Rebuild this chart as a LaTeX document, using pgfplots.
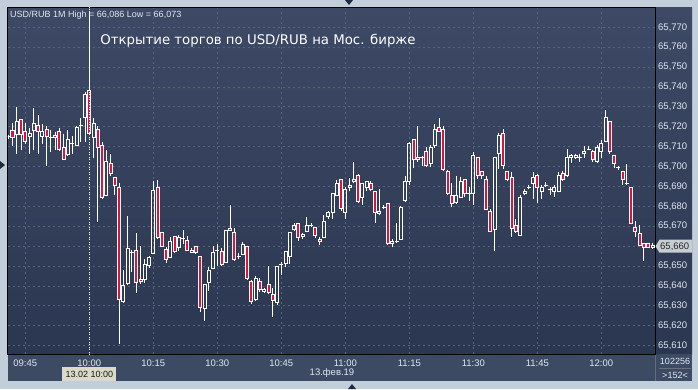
\documentclass[border=0pt]{standalone}
\usepackage{pgfplots}
\pgfplotsset{compat=1.18}
\usepackage{pgfplotstable}
\usepackage{fontspec}
\setmainfont{Liberation Sans}
\newfontfamily\titlefont{DejaVu Sans}
\definecolor{outer}{HTML}{C3CEDB}
\definecolor{bgtop}{HTML}{3E4A65}
\definecolor{bgbot}{HTML}{2B3651}
\definecolor{gridc}{HTML}{55637E}
\definecolor{lbl}{HTML}{E1E7F0}
\definecolor{candred}{HTML}{DC143C}
\definecolor{botpanel}{HTML}{3D4A64}
\definecolor{tagc}{HTML}{C8CDD4}
\definecolor{navc}{HTML}{1E2A40}

\pgfplotstableread{
k o h l c
0 65.7150 65.7160 65.7140 65.7150
1 65.7183 65.7217 65.7103 65.7145
2 65.7163 65.7300 65.7063 65.7227
3 65.7237 65.7240 65.7083 65.7163
4 65.7175 65.7217 65.7115 65.7125
5 65.7153 65.7195 65.7063 65.7165
6 65.7183 65.7292 65.7083 65.7215
7 65.7205 65.7258 65.7063 65.7175
8 65.7153 65.7215 65.7115 65.7175
9 65.7185 65.7205 65.7003 65.7153
10 65.7145 65.7185 65.7075 65.7145
11 65.7157 65.7175 65.7083 65.7145
12 65.7175 65.7195 65.7083 65.7085
13 65.7095 65.7165 65.7035 65.7035
14 65.7063 65.7185 65.7053 65.7135
15 65.7115 65.7155 65.7063 65.7115
16 65.7105 65.7205 65.7105 65.7195
17 65.7205 65.7245 65.7125 65.7205
18 65.7245 65.7375 65.7125 65.7362
19 65.7382 65.7780 65.7160 65.7165
20 65.7145 65.7245 65.7045 65.7215
21 65.7185 65.7205 65.6723 65.7095
22 65.7105 65.7125 65.6835 65.6845
23 65.6855 65.7085 65.6850 65.7025
24 65.7015 65.7065 65.6955 65.6965
25 65.6945 65.6947 65.6855 65.6905
26 65.6895 65.6915 65.6108 65.6330
27 65.6320 65.6480 65.6315 65.6400
28 65.6410 65.6750 65.6405 65.6590
29 65.6567 65.6580 65.6470 65.6567
30 65.6580 65.6665 65.6365 65.6415
31 65.6433 65.6600 65.6410 65.6423
32 65.6433 65.6533 65.6413 65.6510
33 65.6502 65.6550 65.6490 65.6542
34 65.6565 65.6930 65.6560 65.6880
35 65.6895 65.6935 65.6635 65.6645
36 65.6670 65.6670 65.6598 65.6600
37 65.6585 65.6595 65.6515 65.6535
38 65.6545 65.6645 65.6540 65.6625
39 65.6650 65.6650 65.6565 65.6575
40 65.6595 65.6655 65.6575 65.6645
41 65.6640 65.6680 65.6610 65.6640
42 65.6630 65.6650 65.6578 65.6580
43 65.6570 65.6590 65.6565 65.6580
44 65.6600 65.6600 65.6560 65.6570
45 65.6550 65.6550 65.6270 65.6293
46 65.6285 65.6405 65.6225 65.6405
47 65.6415 65.6495 65.6375 65.6480
48 65.6490 65.6600 65.6485 65.6570
49 65.6580 65.6610 65.6500 65.6580
50 65.6575 65.6590 65.6500 65.6510
51 65.6520 65.6680 65.6520 65.6680
52 65.6690 65.6805 65.6678 65.6680
53 65.6670 65.6690 65.6525 65.6535
54 65.6550 65.6565 65.6535 65.6550
55 65.6560 65.6620 65.6560 65.6610
56 65.6600 65.6600 65.6430 65.6440
57 65.6420 65.6430 65.6310 65.6320
58 65.6330 65.6450 65.6328 65.6440
59 65.6420 65.6440 65.6370 65.6380
60 65.6370 65.6390 65.6368 65.6380
61 65.6405 65.6500 65.6360 65.6365
62 65.6358 65.6390 65.6245 65.6325
63 65.6315 65.6500 65.6305 65.6500
64 65.6510 65.6520 65.6455 65.6510
65 65.6512 65.6572 65.6495 65.6572
66 65.6550 65.6670 65.6510 65.6670
67 65.6685 65.6715 65.6675 65.6705
68 65.6715 65.6715 65.6625 65.6645
69 65.6648 65.6667 65.6637 65.6658
70 65.6675 65.6745 65.6675 65.6705
71 65.6705 65.6715 65.6695 65.6705
72 65.6693 65.6693 65.6643 65.6653
73 65.6635 65.6645 65.6605 65.6625
74 65.6645 65.6755 65.6645 65.6725
75 65.6747 65.6777 65.6737 65.6767
76 65.6767 65.6867 65.6737 65.6867
77 65.6855 65.6935 65.6855 65.6915
78 65.6937 65.6937 65.6777 65.6787
79 65.6767 65.6895 65.6735 65.6885
80 65.6895 65.6945 65.6875 65.6905
81 65.6925 65.7025 65.6915 65.6935
82 65.6955 65.6965 65.6820 65.6823
83 65.6847 65.6917 65.6807 65.6917
84 65.6895 65.6925 65.6875 65.6925
85 65.6915 65.6925 65.6875 65.6885
86 65.6875 65.6875 65.6717 65.6767
87 65.6765 65.6885 65.6755 65.6775
88 65.6795 65.6805 65.6785 65.6795
89 65.6815 65.6815 65.6605 65.6615
90 65.6615 65.6635 65.6595 65.6625
91 65.6625 65.6715 65.6615 65.6625
92 65.6635 65.6800 65.6630 65.6795
93 65.6827 65.6955 65.6825 65.6927
94 65.6925 65.7125 65.6905 65.7115
95 65.7135 65.7135 65.6995 65.7035
96 65.7045 65.7205 65.7025 65.7035
97 65.7045 65.7055 65.7005 65.7045
98 65.7077 65.7097 65.6997 65.7007
99 65.7017 65.7107 65.6997 65.7097
100 65.7105 65.7215 65.7095 65.7185
101 65.7195 65.7245 65.7175 65.7175
102 65.7185 65.7205 65.6980 65.6985
103 65.6975 65.6985 65.6855 65.6865
104 65.6855 65.6915 65.6795 65.6815
105 65.6817 65.6955 65.6810 65.6857
106 65.6847 65.6947 65.6845 65.6927
107 65.6935 65.6935 65.6845 65.6865
108 65.6865 65.6895 65.6825 65.6865
109 65.6867 65.7075 65.6807 65.7055
110 65.7047 65.7047 65.6937 65.6957
111 65.6977 65.6977 65.6937 65.6957
112 65.6935 65.6955 65.6780 65.6785
113 65.6775 65.6785 65.6670 65.6675
114 65.6683 65.7045 65.6575 65.7045
115 65.7067 65.7167 65.6987 65.7157
116 65.7167 65.7187 65.6987 65.7007
117 65.6975 65.6975 65.6925 65.6935
118 65.6945 65.6975 65.6647 65.6687
119 65.6705 65.6735 65.6665 65.6675
120 65.6655 65.6855 65.6650 65.6845
121 65.6865 65.6885 65.6855 65.6875
122 65.6895 65.6905 65.6885 65.6895
123 65.6915 65.6975 65.6837 65.6945
124 65.6955 65.6965 65.6817 65.6897
125 65.6877 65.6907 65.6837 65.6897
126 65.6905 65.6925 65.6895 65.6905
127 65.6885 65.6895 65.6855 65.6885
128 65.6875 65.6905 65.6847 65.6895
129 65.6875 65.6975 65.6870 65.6955
130 65.6967 65.6977 65.6927 65.6937
131 65.6957 65.7087 65.6947 65.7047
132 65.7045 65.7065 65.7017 65.7055
133 65.7045 65.7065 65.7043 65.7055
134 65.7045 65.7065 65.7025 65.7045
135 65.7065 65.7105 65.7045 65.7075
136 65.7085 65.7105 65.7085 65.7085
137 65.7075 65.7085 65.7025 65.7035
138 65.7027 65.7107 65.7017 65.7097
139 65.7075 65.7135 65.7045 65.7115
140 65.7125 65.7285 65.7125 65.7245
141 65.7225 65.7225 65.7065 65.7075
142 65.7055 65.7055 65.6995 65.7015
143 65.6995 65.7005 65.6985 65.6995
144 65.6975 65.6975 65.6907 65.6935
145 65.6915 65.7015 65.6905 65.6915
146 65.6895 65.6895 65.6710 65.6715
147 65.6695 65.6725 65.6645 65.6675
148 65.6665 65.6705 65.6600 65.6605
149 65.6615 65.6615 65.6525 65.6595
150 65.6615 65.6615 65.6595 65.6595
151 65.6595 65.6615 65.6587 65.6605
}\candles

\pgfplotsset{
  cbar/.style={draw=none, mark=none, forget plot,
    error bars/error mark=none,
    error bars/error bar style={draw=white, solid, line width=1pt, line cap=butt}},
}

\begin{document}
\begin{tikzpicture}
\path[use as bounding box] (0pt,-389pt) rectangle (698pt,0pt);
\fill[outer] (0pt,-389pt) rectangle (698pt,0pt);
\shade[top color=bgtop, bottom color=bgbot] (655pt,-354pt) rectangle (692pt,-7pt);
\fill[botpanel] (8pt,-381pt) rectangle (692pt,-354pt);
\draw[color=gray!60!bgtop, line width=1pt] (655pt,-355pt) -- (655pt,-381pt);
\draw[color=gray!70!bgtop, line width=0.8pt] (659pt,-368pt) -- (691pt,-368pt);

\begin{axis}[
  at={(8pt,-354pt)}, anchor=south west,
  scale only axis, width=647pt, height=347pt,
  xmin=-0.0547, xmax=151.586, ymin=65.6058, ymax=65.7802,
  axis background/.style={top color=bgtop, bottom color=bgbot},
  axis line style={draw=black, line width=1pt},
  xtick={4,19,34,49,64,79,94,109,124,139},
  xticklabels={09:45,10:00,10:15,10:30,10:45,11:00,11:15,11:30,11:45,12:00},
  ytick={65.61,65.62,65.63,65.64,65.65,65.66,65.67,65.68,65.69,65.70,65.71,65.72,65.73,65.74,65.75,65.76,65.77},
  yticklabels={{65,610},{65,620},{65,630},{65,640},{65,650},{},{65,670},{65,680},{65,690},{65,700},{65,710},{65,720},{65,730},{65,740},{65,750},{65,760},{65,770}},
  yticklabel pos=right,
  major tick length=0pt,
  grid=major,
  major grid style={draw=gridc, line width=0.9pt, dash pattern=on 2pt off 3pt},
  ticklabel style={font=\fontsize{9.5}{11}\selectfont, text=lbl, inner sep=0pt},
  xticklabel style={anchor=base, yshift=-12pt},
  yticklabel style={anchor=west, xshift=3pt},
]
% upper wicks
\addplot[cbar, error bars/y dir=plus, error bars/y explicit]
  table[x=k, y expr={max(\thisrow{o},\thisrow{c})},
        y error expr={\thisrow{h}-max(\thisrow{o},\thisrow{c})}] {\candles};
% lower wicks
\addplot[cbar, error bars/y dir=plus, error bars/y explicit]
  table[x=k, y=l, y error expr={min(\thisrow{o},\thisrow{c})-\thisrow{l}}] {\candles};
% red fill for falling candles
\addplot[cbar, error bars/y dir=plus, error bars/y explicit,
  error bars/error bar style={draw=candred, line width=2.2pt}]
  table[x=k, y=c, y error expr={max(\thisrow{o}-\thisrow{c},0)}] {\candles};
% body sides
\addplot[cbar, error bars/y dir=plus, error bars/y explicit]
  table[x expr={\thisrow{k}-0.3516}, y expr={min(\thisrow{o},\thisrow{c})},
        y error expr={abs(\thisrow{o}-\thisrow{c})}] {\candles};
\addplot[cbar, error bars/y dir=plus, error bars/y explicit]
  table[x expr={\thisrow{k}+0.3516}, y expr={min(\thisrow{o},\thisrow{c})},
        y error expr={abs(\thisrow{o}-\thisrow{c})}] {\candles};
% body top and bottom
\addplot[cbar, error bars/x dir=both, error bars/x fixed=0.46875]
  table[x=k, y expr={max(\thisrow{o},\thisrow{c})}] {\candles};
\addplot[cbar, error bars/x dir=both, error bars/x fixed=0.46875]
  table[x=k, y expr={min(\thisrow{o},\thisrow{c})}] {\candles};
% cursor
\draw[white, line width=1pt, dash pattern=on 1pt off 1.5pt] (axis cs:19,65.59) -- (axis cs:19,65.79);
\end{axis}

% texts
\node[anchor=west, inner sep=0pt, text=lbl, font=\fontsize{9}{11}\selectfont] at (10pt,-15pt) {USD/RUB 1M High = 66,086 Low = 66,073};
\node[inner sep=0pt, text=white, font=\titlefont\fontsize{13.3}{15}\selectfont] at (258pt,-41pt) {Открытие торгов по USD/RUB на Мос. бирже};
% price tag
\fill[tagc] (655.5pt,-246.2pt) -- (659.5pt,-239.7pt) -- (692pt,-239.7pt) -- (692pt,-252.7pt) -- (659.5pt,-252.7pt) -- cycle;
\node[anchor=west, inner sep=0pt, text=black!85, font=\fontsize{9.5}{11}\selectfont] at (660pt,-246.4pt) {65,660};
% bottom panel texts
\node[inner sep=0pt, text=lbl, font=\fontsize{9.5}{11}\selectfont] at (332pt,-373pt) {13.фев.19};
\node[fill={rgb,255:red,218;green,218;blue,200}, minimum width=54pt, minimum height=14pt, inner sep=0pt, text=black!90, font=\fontsize{9}{11}\selectfont] at (89.3pt,-374pt) {13.02 10:00};
\node[inner sep=0pt, text=lbl, font=\fontsize{9}{11}\selectfont] at (675pt,-361pt) {102256};
\node[inner sep=0pt, text=lbl, font=\fontsize{9}{11}\selectfont] at (675pt,-375pt) {>152<};
% navigation arrows
\fill[navc] (345pt,0pt) -- (353pt,0pt) -- (349pt,-5pt) -- cycle;
\fill[navc] (348pt,-389pt) -- (356pt,-389pt) -- (352pt,-384pt) -- cycle;
\fill[navc] (0pt,-161pt) -- (0pt,-169pt) -- (5pt,-165pt) -- cycle;
\end{tikzpicture}
\end{document}
